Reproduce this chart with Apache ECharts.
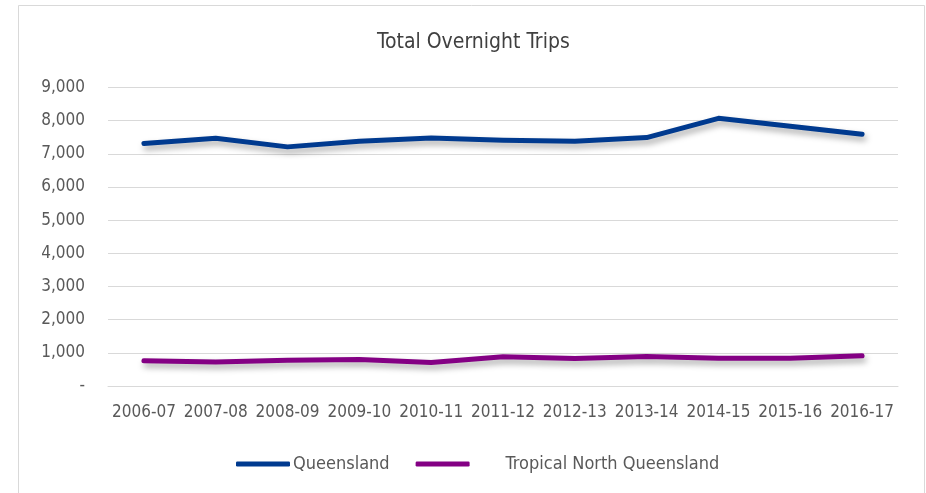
<!DOCTYPE html>
<html><head><meta charset="utf-8">
<script src="https://cdn.jsdelivr.net/npm/echarts@6/dist/echarts.min.js"></script>
<style>html,body{margin:0;padding:0;background:#fff}#c{width:926px;height:493px}</style>
</head><body><div id="c"></div>
<script>
var categories = ['2006-07','2007-08','2008-09','2009-10','2010-11','2011-12','2012-13','2013-14','2014-15','2015-16','2016-17'];
var queensland = [7310, 7470, 7210, 7380, 7480, 7410, 7380, 7490, 8070, 7830, 7590];
var tnq = [760, 720, 780, 800, 710, 880, 830, 890, 840, 840, 910];
var seriesNames = ['Queensland', 'Tropical North Queensland'];
var titleText = 'Total Overnight Trips';

var FONT = "'Liberation Sans Narrow','DejaVu Sans Condensed',sans-serif";
var chart = echarts.init(document.getElementById('c'), null, {renderer: 'canvas'});
var shadow = {shadowColor: 'rgba(0,0,0,0.35)', shadowBlur: 6, shadowOffsetX: 2, shadowOffsetY: 4};
chart.setOption({
  animation: false,
  backgroundColor: '#fff',
  graphic: [{type: 'rect', shape: {x: 18.5, y: 5.5, width: 906, height: 500}, style: {fill: 'none', stroke: '#d9d9d9', lineWidth: 1}}],
  title: {text: titleText, left: 372, top: 27, textStyle: {fontFamily: FONT, fontSize: 21, fontWeight: 'normal', color: '#404040'}},
  legend: {
    top: 450, left: 231, itemWidth: 54, itemHeight: 5, itemGap: 26, icon: 'roundRect',
    textStyle: {fontFamily: FONT, fontSize: 18, color: '#595959', padding: [0,0,0,-2]},
    data: [{name: seriesNames[0]}, {name: seriesNames[1], textStyle: {padding: [0,0,0,31]}}]
  },
  grid: {left: 108, right: 28, top: 87.5, bottom: 107},
  xAxis: {
    type: 'category', data: categories, boundaryGap: true,
    axisLine: {lineStyle: {color: '#d9d9d9', width: 1}}, axisTick: {show: false},
    axisLabel: {fontFamily: FONT, fontSize: 17, color: '#595959', margin: 18, interval: 0}
  },
  yAxis: {
    type: 'value', min: 0, max: 9000, interval: 1000,
    axisLine: {show: false}, axisTick: {show: false},
    splitLine: {lineStyle: {color: '#d9d9d9', width: 1}},
    axisLabel: {fontFamily: FONT, fontSize: 17, color: '#595959', margin: 23,
      formatter: function (v) { return v === 0 ? '-' : v.toLocaleString('en-US'); }}
  },
  series: [
    {name: seriesNames[0], type: 'line', data: queensland, showSymbol: false, symbol: 'none',
     itemStyle: {color: '#003a8f'}, lineStyle: Object.assign({color: '#003a8f', width: 5, cap: 'round', join: 'round'}, shadow)},
    {name: seriesNames[1], type: 'line', data: tnq, showSymbol: false, symbol: 'none',
     itemStyle: {color: '#840084'}, lineStyle: Object.assign({color: '#840084', width: 5, cap: 'round', join: 'round'}, shadow)}
  ]
});
</script></body></html>
